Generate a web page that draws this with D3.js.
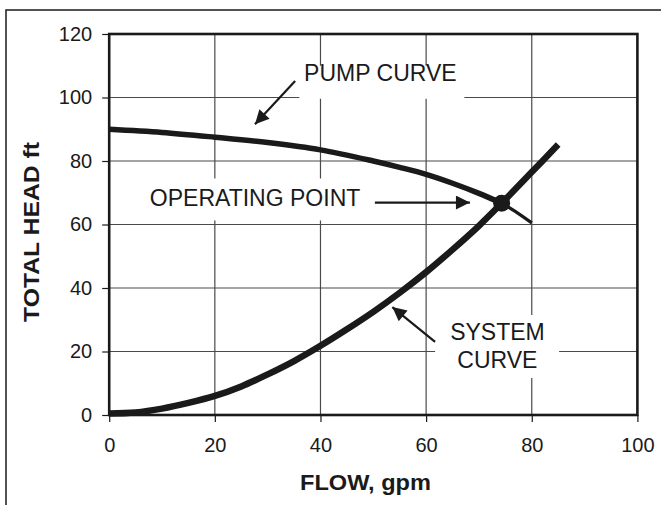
<!DOCTYPE html>
<html>
<head>
<meta charset="utf-8">
<script src="https://cdn.jsdelivr.net/npm/d3@7"></script>
<style>
  html, body { margin: 0; padding: 0; background: #fff; }
  svg { display: block; }
  text { font-family: "Liberation Sans", Arial, sans-serif; fill: #1a1a1a; }
</style>
</head>
<body>
<svg id="chart" width="661" height="505"></svg>
<script>
// ---- data ----
const xTicks = [0, 20, 40, 60, 80, 100];
const yTicks = [0, 20, 40, 60, 80, 100, 120];
const pumpFlow = [0, 10, 20, 30, 40, 50, 55, 60, 65, 70, 74.3, 77, 80];
const pumpHead = [90, 89, 87.5, 85.8, 83.5, 80, 78, 75.8, 73, 69.8, 66.7, 64, 60.5];
const systemFlow = [0, 5, 10, 15, 20, 25, 30, 35, 40, 45, 50, 55, 60, 65, 70, 74.3, 80, 85];
const systemHead = [0.5, 0.8, 2, 3.8, 6, 9, 12.8, 17, 21.8, 27, 32.5, 38.5, 45, 52.1, 59.6, 66.7, 76.5, 85.2];
const operatingPoint = [74.3, 66.7];
const xTitle = "FLOW, gpm";
const yTitle = "TOTAL HEAD ft";
const labelTexts = ["PUMP CURVE", "OPERATING POINT", "SYSTEM", "CURVE"];
const labelAnchors = [[36.9, 105.2], [7.7, 65.8], [73.5, 23.6], [73.5, 14.8]];
const arrowFrom = [[35.2, 105.2], [50.3, 66.9], [61.7, 23.0]];
const arrowTo = [[27.6, 91.6], [68.3, 66.9], [53.6, 34.0]];

// ---- layout ----
const svg = d3.select("#chart");
const mLeft = 109.2, mRight = 637.4, mTop = 34, mBottom = 415;
const x = d3.scaleLinear().domain([0, 100]).range([mLeft, mRight]);
const y = d3.scaleLinear().domain([0, 120]).range([mBottom, mTop]);

// outer frame
svg.append("rect").attr("x", 6).attr("y", 10).attr("width", 720).attr("height", 600)
  .attr("fill", "none").attr("stroke", "#1a1a1a").attr("stroke-width", 1.5);

// gridlines
const grid = svg.append("g");
grid.selectAll("line.v").data(xTicks.slice(1, -1)).join("line")
  .attr("x1", d => x(d)).attr("x2", d => x(d)).attr("y1", mTop).attr("y2", mBottom)
  .attr("stroke", "#4a4a4a").attr("stroke-width", 1.2);
grid.selectAll("line.h").data(yTicks.slice(1, -1)).join("line")
  .attr("y1", d => y(d)).attr("y2", d => y(d)).attr("x1", mLeft).attr("x2", mRight)
  .attr("stroke", "#4a4a4a").attr("stroke-width", 1.2);

// white boxes behind labels (gridlines are interrupted)
const boxes = [
  [x(36.0), y(110.0), 165, 33],
  [x(5.8), y(74.5), 232, 42],
  [x(61.7), y(31.5), 124, 63]
];
svg.selectAll("rect.box").data(boxes).join("rect")
  .attr("x", d => d[0]).attr("y", d => d[1]).attr("width", d => d[2]).attr("height", d => d[3])
  .attr("fill", "#fff");

// axes
const xAxis = svg.append("g").attr("transform", `translate(0,${mBottom})`)
  .call(d3.axisBottom(x).tickValues(xTicks).tickSize(7).tickPadding(16));
const yAxis = svg.append("g").attr("transform", `translate(${mLeft},0)`)
  .call(d3.axisLeft(y).tickValues(yTicks).tickSize(7).tickPadding(10));
[xAxis, yAxis].forEach(a => {
  a.select(".domain").remove();
  a.selectAll(".tick line").attr("stroke", "#1a1a1a").attr("stroke-width", 1.2);
  a.selectAll(".tick text").attr("font-size", 20).attr("fill", "#1a1a1a")
    .attr("font-family", "'Liberation Sans', Arial, sans-serif");
});
// plot frame
svg.append("rect").attr("x", mLeft).attr("y", mTop).attr("width", mRight - mLeft).attr("height", mBottom - mTop)
  .attr("fill", "none").attr("stroke", "#1a1a1a").attr("stroke-width", 2.6);

// axis titles
svg.append("text").attr("x", 300).attr("y", 490)
  .attr("font-size", 21.5).attr("font-weight", "bold")
  .attr("textLength", 131).attr("lengthAdjust", "spacingAndGlyphs").text(xTitle);
svg.append("text").attr("transform", `translate(39,322) rotate(-90)`)
  .attr("font-size", 22.5).attr("font-weight", "bold")
  .attr("textLength", 180).attr("lengthAdjust", "spacingAndGlyphs").text(yTitle);

// labels
svg.selectAll("text.lbl").data(labelTexts).join("text")
  .attr("class", "lbl")
  .attr("x", (d, i) => x(labelAnchors[i][0]))
  .attr("y", (d, i) => y(labelAnchors[i][1]))
  .attr("text-anchor", (d, i) => i >= 2 ? "middle" : "start")
  .attr("font-size", 23)
  .text(d => d);

// arrows
const defs = svg.append("defs");
defs.append("marker").attr("id", "ah").attr("viewBox", "0 0 10 10")
  .attr("refX", 10).attr("refY", 5).attr("markerWidth", 19).attr("markerHeight", 14)
  .attr("markerUnits", "userSpaceOnUse").attr("orient", "auto")
  .append("path").attr("d", "M0,0 L10,5 L0,10 Z").attr("fill", "#1a1a1a");
svg.selectAll("line.arrow").data(arrowFrom).join("line")
  .attr("x1", d => x(d[0])).attr("y1", d => y(d[1]))
  .attr("x2", (d, i) => x(arrowTo[i][0])).attr("y2", (d, i) => y(arrowTo[i][1]))
  .attr("stroke", "#1a1a1a").attr("stroke-width", 2.2).attr("marker-end", "url(#ah)");

// curves
const line = d3.line().x(d => x(d[0])).y(d => y(d[1])).curve(d3.curveCatmullRom);
const pump = pumpFlow.map((f, i) => [f, pumpHead[i]]);
const sys = systemFlow.map((f, i) => [f, systemHead[i]]);
svg.append("path").datum(pump).attr("d", line).attr("fill", "none")
  .attr("stroke", "#1a1a1a").attr("stroke-width", 3.2);
svg.append("path").datum(pump.filter(d => d[0] <= operatingPoint[0])).attr("d", line).attr("fill", "none")
  .attr("stroke", "#1a1a1a").attr("stroke-width", 5.5);
svg.append("path").datum(sys).attr("d", line).attr("fill", "none")
  .attr("stroke", "#1a1a1a").attr("stroke-width", 6.5);

// operating point
svg.append("circle").attr("cx", x(operatingPoint[0])).attr("cy", y(operatingPoint[1]))
  .attr("r", 8.5).attr("fill", "#1a1a1a");
</script>
</body>
</html>
